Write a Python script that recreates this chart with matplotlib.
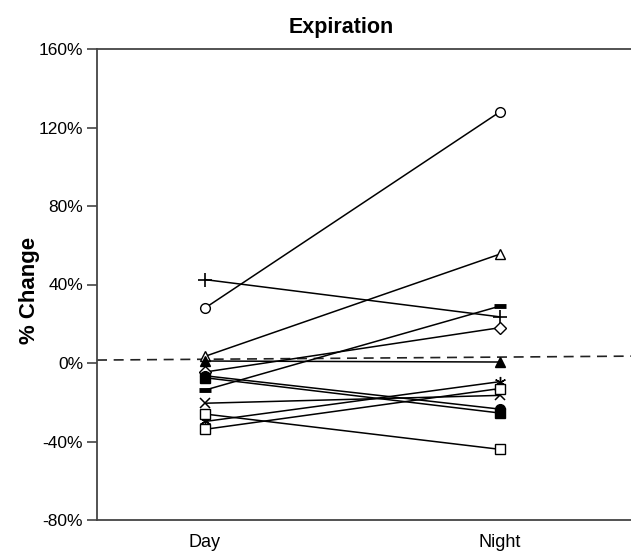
import matplotlib
matplotlib.use("Agg")
import matplotlib.pyplot as plt
from matplotlib.ticker import FuncFormatter

plt.rcParams['font.family'] = ['Liberation Sans', 'DejaVu Sans']

categories = ["Day", "Night"]
# each subject: (Day, Night) % change
circle_open = [28, 128]
plus = [42.5, 23.5]
triangle_open = [3.4, 55.5]
thick_dash = [-13.8, 29]
diamond_open = [-4.6, 18]
triangle_filled = [1, 0.5]
circle_filled = [-6.5, -23.5]
square_filled = [-7.5, -25.5]
x_cross = [-20.5, -16.5]
star = [-29.8, -9.5]
square_small = [-33.8, -13]
square_open = [-26, -44]
reference_line = [1.5, 3.5]

yticks = [-80, -40, 0, 40, 80, 120, 160]

fig = plt.figure(figsize=(6.31, 5.55), dpi=100)
ax = fig.add_axes([97/631, 1-520/555, 1-97/631, (520-49)/555])

xs = [1, 2]
xlim = (0.634, 2.444)

series = [
    (circle_open, dict(marker='o', mfc='white', ms=7)),
    (plus, dict(marker='+', ms=10, mew=1.2)),
    (triangle_open, dict(marker='^', mfc='white', ms=7.5)),
    (thick_dash, dict(marker='_', ms=8, mew=3.5)),
    (diamond_open, dict(marker='D', mfc='white', ms=6)),
    (triangle_filled, dict(marker='^', mfc='black', ms=7.5)),
    (circle_filled, dict(marker='o', mfc='black', ms=7)),
    (square_filled, dict(marker='s', mfc='black', ms=6.5)),
    (x_cross, dict(marker='x', ms=7, mew=1.1)),
    (star, dict(marker=(6, 2, 0), ms=8, mew=1.0)),
    (square_small, dict(marker='s', mfc='white', ms=6.5)),
    (square_open, dict(marker='s', mfc='white', ms=7.5)),
]

ax.plot(xlim, reference_line, color='#222222', lw=1.2, ls=(0, (6, 4)), zorder=1)

for vals, st in series:
    ax.plot(xs, vals, color='black', lw=1.1, mec='black', zorder=3, **st)

ax.set_xlim(*xlim)
ax.set_ylim(-80, 160)
ax.set_yticks(yticks)
ax.yaxis.set_major_formatter(FuncFormatter(lambda v, p: f"{int(v)}%"))
ax.set_xticks(xs)
ax.set_xticklabels(categories)
ax.tick_params(axis='x', length=0, labelsize=13, pad=10)
ax.tick_params(axis='y', direction='out', length=7, width=1.2, color='#444444',
               labelsize=12.5, pad=3)

for s in ['left', 'top', 'bottom']:
    ax.spines[s].set_color('#444444')
    ax.spines[s].set_linewidth(1.3)
ax.spines['right'].set_visible(False)

fig.text(30/631, 1-290/555, "% Change", ha='center', va='center', rotation=90,
         fontsize=16, fontweight='bold')
fig.text(341/631, 1-28/555, "Expiration", ha='center', va='center',
         fontsize=15.5, fontweight='bold')

fig.savefig("out.png", dpi=100)
